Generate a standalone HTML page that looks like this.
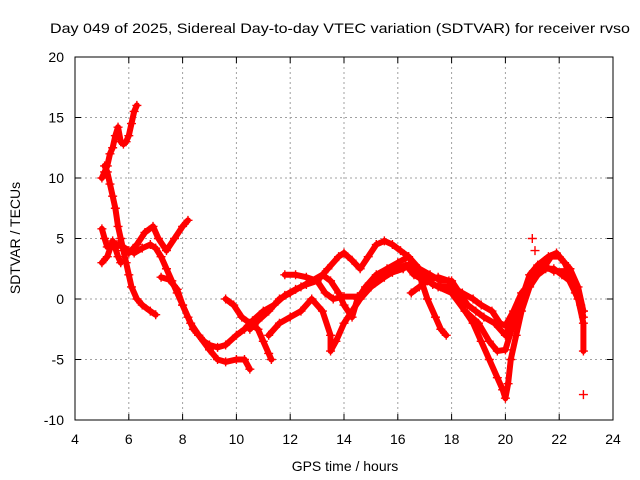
<!DOCTYPE html>
<html><head><meta charset="utf-8"><style>
body{margin:0;background:#fff}
svg{display:block;font-family:"Liberation Sans",sans-serif}
</style></head><body>
<svg id="chart" width="640" height="480">
<rect width="640" height="480" fill="#fff"/>
<text x="340" y="33" font-size="14" text-anchor="middle" textLength="580" lengthAdjust="spacingAndGlyphs">Day 049 of 2025, Sidereal Day-to-day VTEC variation (SDTVAR) for receiver rvso</text>
<text x="345" y="471" font-size="14" text-anchor="middle">GPS time / hours</text>
<text transform="translate(20,238) rotate(-90)" font-size="14" text-anchor="middle">SDTVAR / TECUs</text>
<g id="grid"></g><g id="ticks"></g><g id="series"></g>
<rect x="75" y="57" width="538" height="363" fill="none" stroke="#000" stroke-width="1"/>
</svg>
<script>
const xTicks=[4,6,8,10,12,14,16,18,20,22,24];
const yTicks=[-10,-5,0,5,10,15,20];
const trackA=[[5.0,10],[5.1,10.5],[5.2,11],[5.3,12],[5.4,12.5],[5.5,13.5],[5.6,14.2],[5.7,13],[5.8,12.8],[5.9,13],[6.0,13.5],[6.1,14.5],[6.2,15.5],[6.3,16]];
const trackB=[[5.1,11],[5.2,10.5],[5.3,9.5],[5.4,8.5],[5.5,7.5],[5.6,6],[5.7,5],[5.8,4],[5.9,3],[6.0,2],[6.1,1],[6.3,0],[6.5,-0.5],[6.8,-1],[7.0,-1.3]];
const trackC=[[5.0,5.8],[5.1,5],[5.2,4.3],[5.4,4.5],[5.6,4.5],[5.8,4.3],[6.0,4],[6.2,3.8],[6.5,4.2],[6.8,4.5],[7.0,4.2],[7.2,3.5],[7.4,2.5],[7.6,1.5],[7.8,0.5],[8.0,-0.5],[8.2,-1.5],[8.4,-2.5],[8.6,-3],[8.8,-3.5],[9.0,-3.8],[9.3,-4],[9.6,-3.8],[10.0,-3],[10.3,-2.5],[10.6,-1.8],[11,-1],[11.4,-0.5],[11.8,0.3],[12.2,0.8],[12.6,1.2],[13,1.5],[13.4,2.5],[13.8,3.5],[14,3.8],[14.3,3.2],[14.6,2.5],[14.9,3.5],[15.2,4.5],[15.5,4.8],[15.8,4.5],[16.1,4],[16.4,3.5],[16.7,2.5],[17,1.8],[17.3,1.2],[17.6,1],[18,1],[18.4,0.5],[18.8,0],[19.1,-0.5],[19.5,-1],[19.8,-2],[20,-2.2],[20.3,-1],[20.6,0.5],[21,1.5],[21.4,2.5],[21.7,3.5],[22,3.5],[22.4,2.5],[22.7,1],[22.9,-1]];
const trackD=[[5.0,3],[5.2,3.5],[5.4,4.8],[5.5,4.2],[5.6,3.5],[5.7,3]];
const trackE=[[6.0,3.8],[6.3,4.5],[6.6,5.5],[6.9,6],[7.1,5],[7.4,4],[7.7,5],[8.0,6],[8.2,6.5]];
const trackF=[[7.2,1.8],[7.5,1.6],[7.8,0.8],[8.0,-0.5],[8.3,-2],[8.6,-3],[9,-4.2],[9.3,-5],[9.6,-5.2],[10,-5],[10.3,-5],[10.5,-5.8]];
const trackG=[[9.6,0],[9.9,-0.5],[10.2,-1.5],[10.5,-2],[10.8,-2.5],[11,-3.5],[11.2,-4.5],[11.3,-5]];
const trackH=[[11.2,-3],[11.6,-2],[12,-1.5],[12.4,-1],[12.8,0],[13.2,-1],[13.5,-3],[13.5,-4.3],[13.7,-3.5],[14,-2],[14.3,-1],[14.6,0],[15,1],[15.4,2],[15.8,2.2],[16.2,2.5],[16.5,3],[16.8,2],[17.1,0],[17.4,-1.5],[17.6,-2.5],[17.8,-3]];
const trackI=[[11.8,2],[12.2,2],[12.6,1.8],[13,1.5],[13.3,0.5],[13.6,0],[14,0.2],[14.5,0.2],[15,1],[15.5,1.8],[16,2.5],[16.3,2.8],[16.6,2],[17,1.5],[17.5,1.8],[17.9,1.5],[18.2,0],[18.5,-1],[18.8,-2],[19.1,-3.5],[19.4,-5],[19.7,-6.5],[19.9,-7.5],[20,-8.2],[20.1,-7],[20.2,-5],[20.4,-3],[20.6,-1],[20.9,1],[21.2,2],[21.5,2.5],[21.8,2.5],[22.1,2],[22.4,1.5],[22.7,0],[22.9,-2],[22.9,-4.3]];
const trackJ=[[16.5,0.5],[16.8,1],[17.1,1.5],[17.5,1],[18,0.5],[18.5,-1],[19,-2],[19.4,-3.5],[19.7,-4.3],[20,-4.2],[20.3,-2],[20.6,0],[20.9,2],[21.2,2.8],[21.6,3.5],[21.9,3.8],[22.2,3],[22.5,1.5],[22.8,-0.5],[22.9,-1.5]];
const trackK=[[10.5,-2.5],[10.8,-1.8],[11.2,-1],[11.6,0],[12,0.5],[12.4,1],[12.8,1.5],[13.2,2],[13.5,1.5],[13.8,0.5],[14,-0.5],[14.3,-1.5],[14.5,0],[14.8,1],[15.2,2],[15.6,2.5],[16,3],[16.4,3.5],[16.8,2.5],[17.2,2],[17.6,1.5],[18,1.5],[18.3,0.5],[18.6,-0.5],[18.9,-1],[19.2,-1.5],[19.6,-2],[20,-3],[20.3,-1.5],[20.7,0.5],[21,2],[21.4,2.8],[21.8,2.3],[22.2,2.3],[22.6,0.5],[22.9,-1]];
const scatter=[[21,5],[21.1,4],[22.9,-7.9]];
const tracks=[trackA,trackB,trackC,trackD,trackE,trackF,trackG,trackH,trackI,trackJ,trackK];

const X0=75,X1=613,Y0=420,Y1=57;
const xs=v=>X0+(v-4)/(24-4)*(X1-X0);
const ys=v=>Y0-(v+10)/(20+10)*(Y0-Y1);
const NS='http://www.w3.org/2000/svg';
const mk=(t,a,p)=>{const e=document.createElementNS(NS,t);for(const k in a)e.setAttribute(k,a[k]);p.appendChild(e);return e;};
const grid=document.getElementById('grid'),ticks=document.getElementById('ticks'),ser=document.getElementById('series');
xTicks.forEach(t=>{const x=xs(t);
 if(t>4&&t<24){const g=mk('line',{x1:x,x2:x,y1:Y1,y2:Y0,stroke:'#a0a0a0','stroke-dasharray':'2,3'},grid);
 
 }
 mk('line',{x1:x,x2:x,y1:Y0,y2:Y0-6,stroke:'#000'},ticks);
 mk('line',{x1:x,x2:x,y1:Y1,y2:Y1+6,stroke:'#000'},ticks);
 const l=mk('text',{x:x,y:Y0+24,'font-size':14,'text-anchor':'middle'},ticks);l.textContent=t;
 
 });
yTicks.forEach(t=>{const y=ys(t);
 if(t>-10&&t<20){const g=mk('line',{x1:X0,x2:X1,y1:y,y2:y,stroke:'#a0a0a0','stroke-dasharray':'2,3'},grid);
 
 }
 mk('line',{x1:X0,x2:X0+6,y1:y,y2:y,stroke:'#000'},ticks);
 mk('line',{x1:X1,x2:X1-6,y1:y,y2:y,stroke:'#000'},ticks);
 const l=mk('text',{x:X0-11,y:y+5,'font-size':14,'text-anchor':'end'},ticks);l.textContent=t;
 
 });
function plus(p){const x=xs(p[0]),y=ys(p[1]);
 const m=mk('path',{d:`M${x-4.5},${y}h9M${x},${y-4.5}v9`,stroke:'#f00','stroke-width':1.4,fill:'none'},ser);
 
 }
tracks.forEach(tr=>{
 const pl=mk('polyline',{points:tr.map(p=>xs(p[0])+','+ys(p[1])).join(' '),fill:'none',stroke:'#f00','stroke-width':6,'stroke-linejoin':'round','stroke-linecap':'round'},ser);
 
 
 tr.forEach(plus);});
scatter.forEach(plus);
</script>
</body></html>
